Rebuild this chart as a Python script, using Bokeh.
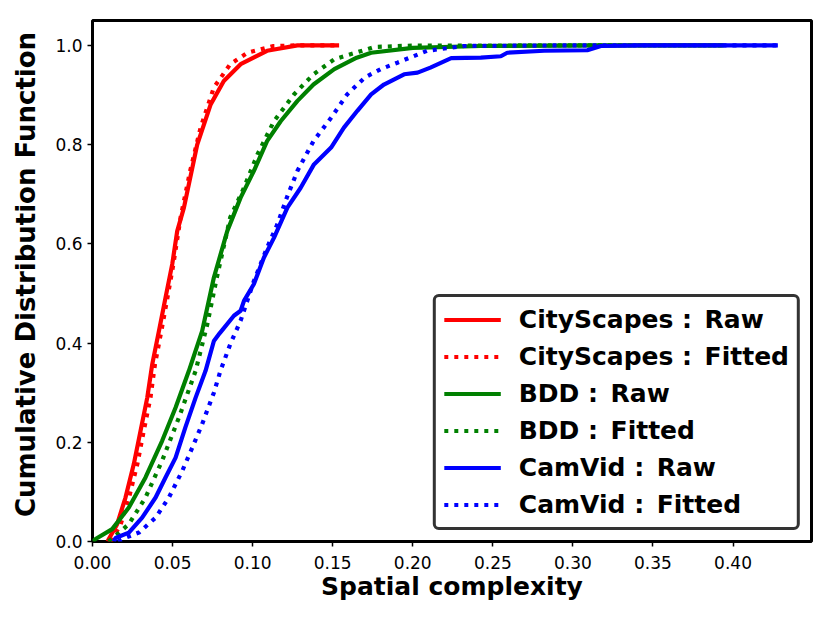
from bokeh.plotting import figure
from bokeh.models import Range1d, FixedTicker, NumeralTickFormatter
from bokeh.embed import file_html
from bokeh.resources import INLINE

# ---- data (x = spatial complexity, y = CDF) ----
city_raw_x = [0.0094, 0.0102, 0.0154, 0.0206, 0.0258, 0.030, 0.0342, 0.0373, 0.0415, 0.0456,
              0.0498, 0.0529, 0.0571, 0.0654, 0.0738, 0.082, 0.0925, 0.109, 0.128, 0.154]
city_raw_y = [0.0, 0.005, 0.035, 0.0886, 0.156, 0.223, 0.29, 0.357, 0.4245, 0.4915,
              0.559, 0.6255, 0.673, 0.80, 0.881, 0.928, 0.962, 0.989, 1.0, 1.0]

city_fit_x = [0.0115, 0.0125, 0.0176, 0.0228, 0.028, 0.032, 0.0362, 0.039, 0.043, 0.0468,
              0.0505, 0.055, 0.061, 0.0675, 0.0758, 0.086, 0.0967, 0.113, 0.13, 0.154]
city_fit_y = [0.0, 0.005, 0.035, 0.0886, 0.156, 0.223, 0.29, 0.357, 0.4245, 0.4915,
              0.559, 0.653, 0.747, 0.834, 0.915, 0.962, 0.985, 0.9986, 1.0, 1.0]

bdd_raw_x = [0.0, 0.0019, 0.0123, 0.0227, 0.0331, 0.0435, 0.0519, 0.0602, 0.0685, 0.0758,
             0.0842, 0.0925, 0.1008, 0.109, 0.1175, 0.128, 0.138, 0.151, 0.165, 0.174,
             0.20, 0.2425, 0.3175, 0.394]
bdd_raw_y = [0.0, 0.005, 0.025, 0.0685, 0.129, 0.203, 0.27, 0.344, 0.4245, 0.532,
             0.626, 0.693, 0.747, 0.807, 0.847, 0.888, 0.921, 0.952, 0.975, 0.985,
             0.995, 0.9986, 1.0, 1.0]

bdd_fit_x = [0.010, 0.0144, 0.0227, 0.0331, 0.0435, 0.054, 0.0644, 0.0717, 0.0775, 0.086,
             0.0946, 0.103, 0.1133, 0.1258, 0.138, 0.151, 0.176, 0.20, 0.394]
bdd_fit_y = [0.0, 0.0115, 0.035, 0.0886, 0.163, 0.25, 0.344, 0.438, 0.53, 0.653,
             0.713, 0.78, 0.847, 0.901, 0.9416, 0.972, 0.9966, 0.9995, 1.0]

cam_raw_x = [0.0133, 0.0144, 0.0227, 0.031, 0.0394, 0.0456, 0.0519, 0.058, 0.0644, 0.0706,
             0.0758, 0.0795, 0.0883, 0.0925, 0.0946, 0.1008, 0.107, 0.1133, 0.1217, 0.13,
             0.1383, 0.149, 0.157, 0.1654, 0.174, 0.182, 0.1946, 0.203, 0.211, 0.224,
             0.2425, 0.255, 0.259, 0.282, 0.309, 0.3175, 0.3425, 0.428]
cam_raw_y = [0.0, 0.007, 0.018, 0.048, 0.0886, 0.129, 0.169, 0.23, 0.29, 0.344,
             0.404, 0.42, 0.455, 0.465, 0.485, 0.519, 0.572, 0.612, 0.673, 0.713,
             0.76, 0.794, 0.834, 0.868, 0.901, 0.921, 0.9416, 0.945, 0.955, 0.974,
             0.975, 0.978, 0.985, 0.989, 0.99, 0.9986, 1.0, 1.0]

cam_fit_x = [0.016, 0.0186, 0.029, 0.0394, 0.0477, 0.056, 0.0623, 0.0685, 0.0758, 0.080,
             0.0863, 0.0925, 0.1008, 0.109, 0.1154, 0.1217, 0.128, 0.138, 0.149, 0.159,
             0.17, 0.18, 0.1904, 0.209, 0.232, 0.30, 0.428]
cam_fit_y = [0.0, 0.005, 0.018, 0.048, 0.0886, 0.142, 0.189, 0.237, 0.30, 0.345,
             0.40, 0.445, 0.525, 0.592, 0.639, 0.696, 0.747, 0.807, 0.854, 0.901,
             0.935, 0.952, 0.965, 0.989, 0.9986, 1.0, 1.0]

x_ticks = [0.0, 0.05, 0.10, 0.15, 0.20, 0.25, 0.30, 0.35, 0.40]
y_ticks = [0.0, 0.2, 0.4, 0.6, 0.8, 1.0]

FONT = "DejaVu Sans"
SEP = " :\u2002"
LW = 4.2

p = figure(width=820, height=613, output_backend="svg", toolbar_location=None,
           x_range=Range1d(0, 0.449), y_range=Range1d(0, 1.05),
           min_border_left=92, min_border_right=9, min_border_top=20, min_border_bottom=72)

p.line(city_raw_x, city_raw_y, color="#ff0000", line_width=LW, legend_label="CityScapes" + SEP + "Raw")
p.line(city_fit_x, city_fit_y, color="#ff0000", line_width=LW, line_dash="4 6",
       legend_label="CityScapes" + SEP + "Fitted")
p.line(bdd_raw_x, bdd_raw_y, color="#008000", line_width=LW, legend_label="BDD" + SEP + "Raw")
p.line(bdd_fit_x, bdd_fit_y, color="#008000", line_width=LW, line_dash="4 6",
       legend_label="BDD" + SEP + "Fitted")
p.line(cam_raw_x, cam_raw_y, color="#0000ff", line_width=LW, legend_label="CamVid" + SEP + "Raw")
p.line(cam_fit_x, cam_fit_y, color="#0000ff", line_width=LW, line_dash="4 6",
       legend_label="CamVid" + SEP + "Fitted")

p.xgrid.visible = False
p.ygrid.visible = False
p.outline_line_color = "black"
p.outline_line_width = 3
p.outline_line_alpha = 1

p.xaxis.ticker = FixedTicker(ticks=x_ticks)
p.yaxis.ticker = FixedTicker(ticks=y_ticks)
p.xaxis.formatter = NumeralTickFormatter(format="0.00")
p.yaxis.formatter = NumeralTickFormatter(format="0.0")
p.xaxis.axis_label = "Spatial complexity"
p.yaxis.axis_label = "\u2002Cumulative Distribution Function"

for ax in (p.xaxis, p.yaxis):
    ax.axis_line_color = None
    ax.major_tick_out = 5
    ax.major_tick_in = 0
    ax.major_tick_line_width = 1.5
    ax.major_tick_line_color = "black"
    ax.minor_tick_line_color = None
    ax.major_label_text_font = FONT
    ax.major_label_text_font_size = "17px"
    ax.major_label_text_color = "black"
    ax.axis_label_text_font = FONT
    ax.axis_label_text_font_style = "bold"
    ax.axis_label_text_color = "black"

p.xaxis.axis_label_text_font_size = "25px"
p.yaxis.axis_label_text_font_size = "26px"
p.xaxis.major_label_standoff = 9
p.xaxis.axis_label_standoff = 0
p.yaxis.major_label_standoff = 5
p.yaxis.axis_label_standoff = 11

lg = p.legend[0]
lg.location = "bottom_right"
lg.label_text_font = FONT
lg.label_text_font_size = "25px"
lg.label_text_font_style = "bold"
lg.label_text_color = "black"
lg.glyph_width = 57
lg.glyph_height = 29
lg.label_height = 29
lg.spacing = 8
lg.padding = 8
lg.margin = 11
lg.label_standoff = 18
lg.border_line_color = "#333333"
lg.border_line_width = 3
lg.border_line_alpha = 1
lg.background_fill_color = "white"
lg.background_fill_alpha = 1
try:
    lg.border_radius = 6
except Exception:
    pass

open("out.html", "w").write(file_html(p, INLINE))
